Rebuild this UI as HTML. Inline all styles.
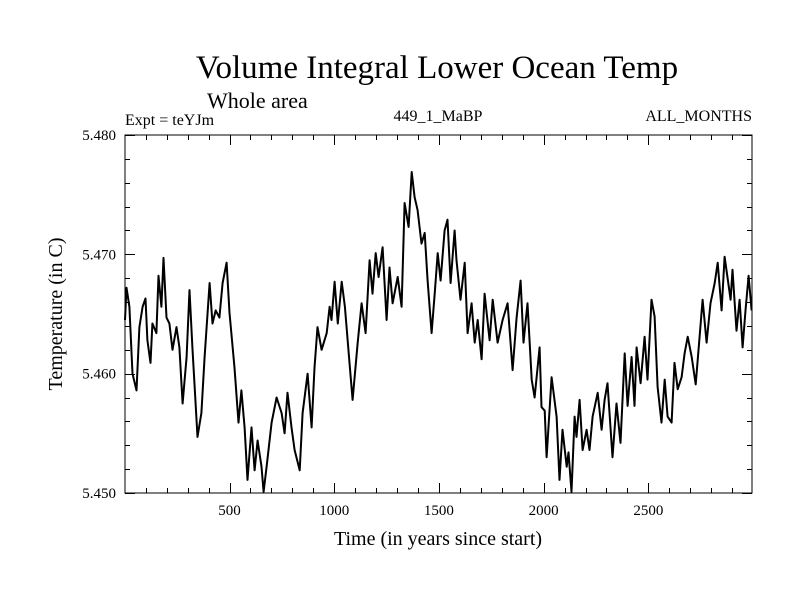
<!DOCTYPE html>
<html><head><meta charset="utf-8"><style>
body{margin:0;background:#fff;}
svg text{font-family:"Liberation Serif",serif;fill:#000;}
</style></head><body>
<svg id="chart" width="800" height="600" xmlns="http://www.w3.org/2000/svg">
<text x="437" y="78" font-size="33" text-anchor="middle">Volume Integral Lower Ocean Temp</text>
<text x="207" y="108" font-size="22">Whole area</text>
<text x="125" y="125" font-size="16">Expt = teYJm</text>
<text x="438" y="121" font-size="16" text-anchor="middle">449_1_MaBP</text>
<text x="752" y="121" font-size="16" text-anchor="end">ALL_MONTHS</text>
<text x="438" y="545" font-size="20" text-anchor="middle">Time (in years since start)</text>
<text transform="translate(62,314) rotate(-90)" font-size="20" text-anchor="middle">Temperature (in C)</text>
<g id="axes"></g>
<path id="series" fill="none" stroke="#000" stroke-width="2" stroke-linejoin="round"/>
<rect x="125" y="135" width="627" height="358" fill="none" stroke="#000" stroke-width="1"/>
</svg>
<script>
const years=[1,8,22,37,56,70,85,99,108,123,132,151,161,175,185,199,213,228,247,261,276,295,309,323,347,366,381,405,419,434,452,467,486,500,524,543,557,572,586,605,620,634,653,663,677,701,725,749,763,777,796,811,835,849,873,892,906,920,940,964,978,987,1002,1017,1036,1051,1075,1088,1112,1131,1150,1169,1183,1198,1212,1231,1250,1264,1279,1303,1322,1336,1355,1370,1384,1398,1417,1432,1446,1465,1480,1494,1508,1527,1541,1556,1575,1584,1603,1623,1637,1656,1671,1685,1704,1718,1742,1757,1780,1804,1828,1852,1871,1890,1904,1923,1943,1957,1981,1990,2005,2014,2038,2062,2076,2090,2110,2119,2133,2148,2157,2172,2186,2205,2219,2234,2258,2277,2291,2305,2329,2348,2367,2387,2401,2420,2434,2444,2463,2482,2496,2515,2530,2544,2563,2578,2592,2611,2625,2640,2659,2673,2688,2707,2726,2745,2759,2778,2797,2817,2831,2850,2864,2893,2902,2921,2936,2950,2964,2979,2993];
const temps=[5.4645,5.4672,5.4656,5.4600,5.4586,5.4639,5.4656,5.4663,5.4628,5.4609,5.4642,5.4634,5.4682,5.4656,5.4697,5.4647,5.4642,5.4620,5.4639,5.4622,5.4575,5.4614,5.4670,5.4622,5.4547,5.4567,5.4614,5.4676,5.4642,5.4653,5.4647,5.4676,5.4693,5.4651,5.4605,5.4559,5.4586,5.4555,5.4511,5.4555,5.4519,5.4544,5.4522,5.4501,5.4522,5.4559,5.4580,5.4567,5.4550,5.4584,5.4555,5.4536,5.4519,5.4567,5.4600,5.4555,5.4605,5.4639,5.4620,5.4634,5.4656,5.4645,5.4677,5.4642,5.4677,5.4656,5.4605,5.4578,5.4626,5.4659,5.4634,5.4695,5.4667,5.4701,5.4681,5.4706,5.4645,5.4689,5.4659,5.4681,5.4656,5.4743,5.4723,5.4769,5.4748,5.4737,5.4709,5.4718,5.4678,5.4634,5.4667,5.4701,5.4678,5.4720,5.4729,5.4676,5.4720,5.4695,5.4662,5.4693,5.4634,5.4659,5.4626,5.4645,5.4612,5.4667,5.4628,5.4662,5.4626,5.4645,5.4659,5.4603,5.4647,5.4678,5.4626,5.4659,5.4595,5.4580,5.4622,5.4572,5.4569,5.4530,5.4597,5.4564,5.4511,5.4553,5.4522,5.4534,5.4501,5.4564,5.4547,5.4578,5.4536,5.4553,5.4536,5.4564,5.4584,5.4553,5.4578,5.4592,5.4530,5.4575,5.4542,5.4617,5.4573,5.4614,5.4573,5.4622,5.4592,5.4631,5.4595,5.4662,5.4648,5.4589,5.4559,5.4595,5.4564,5.4559,5.4609,5.4587,5.4597,5.4617,5.4631,5.4614,5.4591,5.4631,5.4662,5.4626,5.4659,5.4676,5.4693,5.4653,5.4698,5.4662,5.4687,5.4636,5.4662,5.4622,5.4653,5.4682,5.4653,5.4662];
const xTicks=[500,1000,1500,2000,2500];
const yTicks=[5.450,5.460,5.470,5.480];
const yLabels=["5.450","5.460","5.470","5.480"];
const L=125,R=752,T=135,B=493;
const X0=1,X1=2995,Y0=5.450,Y1=5.480;
const sx=v=>L+(v-X0)/(X1-X0)*(R-L);
const sy=v=>B-(v-Y0)/(Y1-Y0)*(B-T);
const NS="http://www.w3.org/2000/svg";
const axes=document.getElementById('axes');
function ln(x1,y1,x2,y2,name){const e=document.createElementNS(NS,'line');e.setAttribute('x1',x1);e.setAttribute('y1',y1);e.setAttribute('x2',x2);e.setAttribute('y2',y2);e.setAttribute('stroke','#000');e.setAttribute('stroke-width','1');


axes.appendChild(e);}
function tx(x,y,s,anchor,name){const e=document.createElementNS(NS,'text');e.setAttribute('x',x);e.setAttribute('y',y);e.setAttribute('font-size','15');e.setAttribute('text-anchor',anchor);e.textContent=s;


axes.appendChild(e);}
for(let v=100;v<3000;v+=100){const x=Math.round(sx(v))+0.5;const len=(v%500===0)?10:5;ln(x,B,x,B-len,'x-tick');ln(x,T,x,T+len,'x-tick-top');}
xTicks.forEach(v=>tx(sx(v),515,String(v),'middle','x-tick-label'));
for(let i=0;i<=15;i++){const v=Y0+i*0.002;const y=Math.round(sy(v))+0.5;const len=(i%5===0)?10:5;ln(L,y,L+len,y,'y-tick');ln(R,y,R-len,y,'y-tick-right');}
yTicks.forEach((v,i)=>tx(116,sy(v)+5,yLabels[i],'end','y-tick-label'));
let d='';years.forEach((y,i)=>{d+=(i?'L':'M')+sx(y).toFixed(1)+' '+sy(temps[i]).toFixed(1);});
document.getElementById('series').setAttribute('d',d);
</script>
</body></html>
